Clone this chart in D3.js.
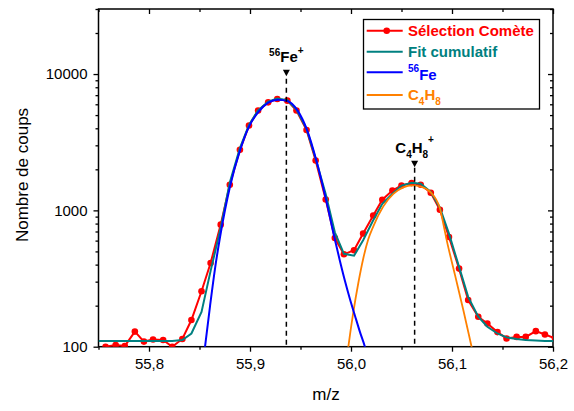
<!DOCTYPE html>
<html><head><meta charset="utf-8">
<script src="https://cdn.jsdelivr.net/npm/d3@7"></script>
<style>
body{margin:0;background:#fff;}
svg{display:block;font-family:Arial,"Liberation Sans",sans-serif;}
</style></head>
<body>
<svg id="chart" width="574" height="411"></svg>
<script>
// ---- data ----
const mz = [55.757,55.767,55.776,55.786,55.795,55.804,55.814,55.823,55.833,55.842,55.852,55.861,55.871,55.880,55.890,55.899,55.908,55.918,55.927,55.937,55.946,55.956,55.965,55.975,55.984,55.993,56.003,56.012,56.022,56.031,56.041,56.050,56.060,56.069,56.079,56.088,56.097,56.107,56.116,56.126,56.135,56.145,56.154,56.164,56.173,56.183,56.192,56.202];
const selectionComete = [100,103,101,129,109,113,112,100,114,157,255,411,786,1541,2780,4190,5400,6200,6560,6380,5400,3890,2320,1203,627,476,510,676,918,1197,1400,1523,1585,1541,1346,1011,638,374,220,166,148,128,115,118,118,130,123,115];
const fitMz = [55.750].concat(mz);
const fitCumulatif = [110,110,110,110,110,110,110,110,110,112,125,180,360,745,1600,2860,4230,5410,6280,6600,6430,5500,3960,2390,1315,690,480,465,604,846,1118,1325,1520,1595,1570,1365,1046,675,385,232,166,140,125,117,114,112,111,110,110];
const feMz = [55.8537,55.8554,55.8604,55.8654,55.8703,55.8752,55.8802,55.8901,55.8990,55.9086,55.9181,55.9277,55.9376,55.9472,55.9567,55.9660,55.9752,55.9842,55.9891,55.9941,55.9990,56.0040,56.0089,56.0139,56.0176];
const feCounts = [77,99,198,376,635,1000,1498,2748,4117,5302,6166,6486,6324,5389,3848,2280,1204,603,424,302,223,168,128,99,77];
const c4h8Mz = [55.9954,55.9973,56.0023,56.0072,56.0122,56.0171,56.0221,56.0320,56.0419,56.0518,56.0604,56.0700,56.0799,56.0842,56.0881,56.0911,56.0948,56.1030,56.1112,56.1195,56.1228];
const c4h8Counts = [77,99,179,292,446,614,764,1070,1320,1473,1524,1486,1332,1204,1034,817,603,335,186,99,77];
const peakMz = [55.936, 56.063];
const peakMarkerCounts = [10200, 2200];
const xMajorTicks = [55.8,55.9,56.0,56.1,56.2];
const xTickLabels = ["55,8","55,9","56,0","56,1","56,2"];
const xMinorTicks = [55.75,55.85,55.95,56.05,56.15];
const yMajorTicks = [100,1000,10000];
const yTickLabels = ["100","1000","10000"];
const yMinorTicks = [200,300,400,500,600,700,800,900,2000,3000,4000,5000,6000,7000,8000,9000,20000,30000];

// ---- layout ----
const svg = d3.select("#chart");
const L = 98.5, R = 553, T = 9, B = 346.7;
const x = d3.scaleLinear().domain([55.75, 56.2]).range([L, R]);
const y = d3.scaleLog().domain([100, 30000]).range([B, T]);
const C = {red:"#ff0000", teal:"#008080", blue:"#0000ff", orange:"#ff8000"};

svg.append("defs").append("clipPath").attr("id","clip")
  .append("rect").attr("x",L).attr("y",T).attr("width",R-L).attr("height",B-T);

// axes
function styleAxis(g){ g.select(".domain").remove(); g.selectAll("line").attr("stroke","#000").attr("stroke-width",1.3); g.selectAll("text").attr("fill","#000").attr("font-size",15).attr("font-family","Arial, 'Liberation Sans', sans-serif"); }
svg.append("g").attr("transform",`translate(0,${B})`)
  .call(d3.axisBottom(x).tickValues(xMajorTicks).tickFormat((d,i)=>xTickLabels[i]).tickSize(5).tickPadding(7)).call(styleAxis);
svg.append("g").attr("transform",`translate(0,${B})`)
  .call(d3.axisBottom(x).tickValues(xMinorTicks).tickFormat("").tickSize(3)).call(styleAxis);
svg.append("g").attr("transform",`translate(0,${T})`)
  .call(d3.axisTop(x).tickValues(xMajorTicks).tickFormat("").tickSize(-5)).call(styleAxis);
svg.append("g").attr("transform",`translate(0,${T})`)
  .call(d3.axisTop(x).tickValues(xMinorTicks).tickFormat("").tickSize(-3)).call(styleAxis);
svg.append("g").attr("transform",`translate(${L},0)`)
  .call(d3.axisLeft(y).tickValues(yMajorTicks).tickFormat((d,i)=>yTickLabels[i]).tickSize(5).tickPadding(6)).call(styleAxis);
svg.append("g").attr("transform",`translate(${L},0)`)
  .call(d3.axisLeft(y).tickValues(yMinorTicks).tickFormat("").tickSize(3)).call(styleAxis);
svg.append("g").attr("transform",`translate(${R},0)`)
  .call(d3.axisRight(y).tickValues(yMajorTicks).tickFormat("").tickSize(-5)).call(styleAxis);
svg.append("g").attr("transform",`translate(${R},0)`)
  .call(d3.axisRight(y).tickValues(yMinorTicks).tickFormat("").tickSize(-3)).call(styleAxis);

// frame
svg.append("rect").attr("x",L).attr("y",T).attr("width",R-L).attr("height",B-T)
  .attr("fill","none").attr("stroke","#000").attr("stroke-width",1.5);

// axis titles
svg.append("text").attr("x",326).attr("y",400).attr("text-anchor","middle").attr("font-size",17).text("m/z");
svg.append("text").attr("transform","translate(28,175) rotate(-90)").attr("text-anchor","middle").attr("font-size",17).text("Nombre de coups");

// peak markers
const plot = svg.append("g").attr("clip-path","url(#clip)");
peakMz.forEach((m,i)=>{
  const px = x(m), py = y(peakMarkerCounts[i]);
  svg.append("path").attr("d",`M${px-3.5},${py-3} L${px+3.5},${py-3} L${px},${py+3.5} Z`).attr("fill","#000");
  svg.append("line").attr("x1",px).attr("x2",px).attr("y1",py+(i===0?6:4)).attr("y2",B)
    .attr("stroke","#000").attr("stroke-width",1.5).attr("stroke-dasharray","5,4");
});
// peak labels
const feLab = svg.append("text").attr("x",x(peakMz[0])).attr("y",62).attr("text-anchor","middle").attr("font-weight","bold").attr("fill","#000");
feLab.append("tspan").attr("font-size",10).attr("dy",-6).text("56");
feLab.append("tspan").attr("font-size",15).attr("dy",6).text("Fe");
feLab.append("tspan").attr("font-size",10).attr("dy",-8).text("+");
const cLab = svg.append("text").attr("x",x(peakMz[1])).attr("y",153).attr("text-anchor","middle").attr("font-weight","bold").attr("fill","#000");
cLab.append("tspan").attr("font-size",15).text("C");
cLab.append("tspan").attr("font-size",10).attr("dy",5).text("4");
cLab.append("tspan").attr("font-size",15).attr("dy",-5).text("H");
cLab.append("tspan").attr("font-size",10).attr("dy",5).text("8");
cLab.append("tspan").attr("font-size",10).attr("dy",-15).text("+");

// series
const line = d3.line().x(d=>x(d[0])).y(d=>y(d[1]));
const smooth = d3.line().curve(d3.curveMonotoneX).x(d=>x(d[0])).y(d=>y(d[1]));
const redData = d3.zip(mz, selectionComete);
plot.append("path").attr("d",line(redData)).attr("fill","none").attr("stroke",C.red).attr("stroke-width",2);
plot.selectAll("circle.pt").data(redData).join("circle").attr("class","pt")
  .attr("cx",d=>x(d[0])).attr("cy",d=>y(d[1])).attr("r",3.3).attr("fill",C.red);
plot.append("path").attr("d",line(d3.zip(fitMz, fitCumulatif))).attr("fill","none").attr("stroke",C.teal).attr("stroke-width",2);
plot.append("path").attr("d",smooth(d3.zip(c4h8Mz, c4h8Counts))).attr("fill","none").attr("stroke",C.orange).attr("stroke-width",1.8);
plot.append("path").attr("d",smooth(d3.zip(feMz, feCounts))).attr("fill","none").attr("stroke",C.blue).attr("stroke-width",2);

// legend
const lg = svg.append("g");
lg.append("rect").attr("x",363.5).attr("y",19.5).attr("width",176).attr("height",89.5).attr("fill","#fff").attr("stroke","#000").attr("stroke-width",1.3);
const rows = [
  {c:C.red, ly:30.7, ty:36},
  {c:C.teal, ly:51.7, ty:57},
  {c:C.blue, ly:72.3, ty:80},
  {c:C.orange, ly:95, ty:100}
];
rows.forEach(r=>lg.append("line").attr("x1",366.7).attr("x2",402.7).attr("y1",r.ly).attr("y2",r.ly).attr("stroke",r.c).attr("stroke-width",2));
lg.append("circle").attr("cx",386.7).attr("cy",30.7).attr("r",3.3).attr("fill",C.red);
lg.append("text").attr("x",408).attr("y",rows[0].ty).attr("font-weight","bold").attr("font-size",15).attr("fill",C.red).text("Sélection Comète");
lg.append("text").attr("x",408).attr("y",rows[1].ty).attr("font-weight","bold").attr("font-size",15).attr("fill",C.teal).text("Fit cumulatif");
const t2 = lg.append("text").attr("x",408).attr("y",rows[2].ty).attr("font-weight","bold").attr("fill",C.blue);
t2.append("tspan").attr("font-size",10).attr("dy",-8).text("56");
t2.append("tspan").attr("font-size",15).attr("dy",8).text("Fe");
const t3 = lg.append("text").attr("x",408).attr("y",rows[3].ty).attr("font-weight","bold").attr("fill",C.orange);
t3.append("tspan").attr("font-size",15).text("C");
t3.append("tspan").attr("font-size",10).attr("dy",5).text("4");
t3.append("tspan").attr("font-size",15).attr("dy",-5).text("H");
t3.append("tspan").attr("font-size",10).attr("dy",5).text("8");
</script>
</body></html>
